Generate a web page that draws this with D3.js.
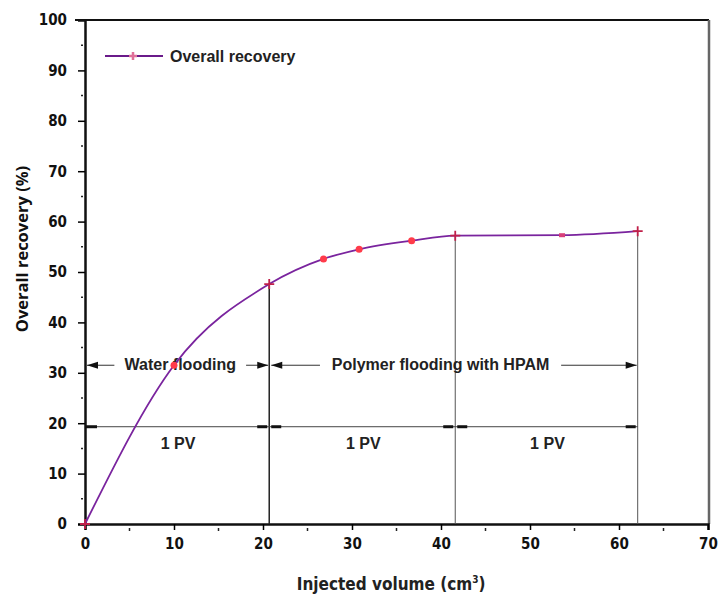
<!DOCTYPE html>
<html>
<head>
<meta charset="utf-8">
<script src="https://cdn.jsdelivr.net/npm/d3@7"></script>
<style>
  body { margin: 0; background: #fff; }
  svg { display: block; }
  text { font-family: "Liberation Sans", Arial, sans-serif; }
</style>
</head>
<body>
<div id="chart"></div>
<script>
// recovery curve
const injected = [0, 10, 20.7, 26.8, 30.8, 36.7, 41.6, 53.6, 62.1];
const recovery = [0, 31.5, 47.6, 52.6, 54.5, 56.2, 57.2, 57.3, 58.1];
const markerKind = ["plus", "dot", "plus", "dot", "dot", "dot", "plus", "square", "plus"];

// stage boundaries (cm3) and labels
const stageBounds = [0, 20.7, 41.6, 62.1];
const floodLabels = ["Water flooding", "Polymer flooding with HPAM"];
const pvLabels = ["1 PV", "1 PV", "1 PV"];

const xTicks = [0, 10, 20, 30, 40, 50, 60, 70];
const yTicks = [0, 10, 20, 30, 40, 50, 60, 70, 80, 90, 100];

const width = 721, height = 596;
const margin = { top: 20, right: 9, bottom: 72, left: 85 };
const narrow = "'DejaVu Sans Condensed', 'Liberation Sans', sans-serif";

const svg = d3.select("#chart").append("svg")
    .attr("width", width)
    .attr("height", height);

const x = d3.scaleLinear().domain([0, 70]).range([margin.left, margin.left + 623]);
const y = d3.scaleLinear().domain([0, 100]).range([height - margin.bottom, margin.top]);

const plotRight = width - margin.right - 3;

// frame
svg.append("line")
    .attr("x1", x(0) - 10).attr("x2", plotRight)
    .attr("y1", y(100)).attr("y2", y(100))
    .attr("stroke", "#111").attr("stroke-width", 2);
svg.append("line")
    .attr("x1", plotRight).attr("x2", plotRight)
    .attr("y1", y(100)).attr("y2", y(0))
    .attr("stroke", "#666").attr("stroke-width", 2.5);

// y axis
const yAxis = svg.append("g")
    .attr("transform", `translate(${x(0)},0)`)
    .call(d3.axisLeft(y).tickValues(yTicks).tickSize(7).tickPadding(11));
yAxis.select(".domain").attr("stroke-width", 2.5).attr("stroke", "#111");
yAxis.selectAll(".tick line").attr("stroke-width", 1.5);
yAxis.selectAll(".tick text")
    .attr("font-size", 15).attr("font-weight", "bold").attr("fill", "#111")
    .style("font-family", narrow);
yAxis.selectAll(".tick").filter(d => d === 100).select("line").remove();

svg.append("g").selectAll("line")
    .data(d3.range(5, 100, 10))
    .join("line")
    .attr("x1", x(0) - 4).attr("x2", x(0) - 2)
    .attr("y1", d => y(d)).attr("y2", d => y(d))
    .attr("stroke", "#222").attr("stroke-width", 1.5);

// x axis
const xAxis = svg.append("g")
    .attr("transform", `translate(0,${y(0)})`)
    .call(d3.axisBottom(x).tickValues(xTicks).tickSize(6).tickPadding(8));
xAxis.select(".domain").attr("stroke-width", 2.5).attr("stroke", "#111");
xAxis.selectAll(".tick line").attr("stroke-width", 1.5);
xAxis.selectAll(".tick text")
    .attr("font-size", 15).attr("font-weight", "bold").attr("fill", "#111")
    .style("font-family", narrow);

svg.append("g").selectAll("line")
    .data(d3.range(5, 70, 10))
    .join("line")
    .attr("x1", d => x(d)).attr("x2", d => x(d))
    .attr("y1", y(0) + 4).attr("y2", y(0) + 7)
    .attr("stroke", "#222").attr("stroke-width", 1.5);

// axis titles
svg.append("text")
    .attr("transform", `translate(28,249) rotate(-90)`)
    .attr("text-anchor", "middle")
    .attr("font-size", 16.5).attr("font-weight", "bold")
    .style("font-family", "'Open Sans', sans-serif")
    .attr("fill", "#111")
    .text("Overall recovery (%)");

const xTitle = svg.append("text")
    .attr("x", x(34.4)).attr("y", 590)
    .attr("text-anchor", "middle")
    .attr("font-size", 17).attr("font-weight", "bold")
    .style("font-family", narrow)
    .attr("fill", "#222");
xTitle.append("tspan").text("Injected volume (cm");
xTitle.append("tspan").attr("dy", -7).attr("font-size", 10).text("3");
xTitle.append("tspan").attr("dy", 7).text(")");

// stage dividers from the curve down to the axis
svg.append("g").selectAll("line")
    .data(stageBounds.slice(1))
    .join("line")
    .attr("x1", d => x(d)).attr("x2", d => x(d))
    .attr("y1", d => y(recovery[injected.indexOf(d)]))
    .attr("y2", y(0))
    .attr("stroke", (d, i) => i === 0 ? "#222" : "#555")
    .attr("stroke-width", (d, i) => i === 0 ? 1.5 : 1);

// flooding arrows
const arrowY = y(31.5);
function head(tipX, dir) {
    svg.append("path")
        .attr("d", `M${tipX},${arrowY} l${-dir * 11},-3.5 v7 Z`)
        .attr("fill", "#111");
}

const floodStages = [[stageBounds[0], stageBounds[1]], [stageBounds[1], stageBounds[3]]];
const floodText = [[x(4.2), x(17.2)], [x(27.3), x(52.6)]];

floodStages.forEach((s, i) => {
    const [t0, t1] = floodText[i];
    const a = x(s[0]) + 2, b = x(s[1]) - 1;
    svg.append("line")
        .attr("x1", a).attr("x2", t0 - 8)
        .attr("y1", arrowY).attr("y2", arrowY)
        .attr("stroke", "#333").attr("stroke-width", 1);
    svg.append("line")
        .attr("x1", t1 + 8).attr("x2", b)
        .attr("y1", arrowY).attr("y2", arrowY)
        .attr("stroke", "#333").attr("stroke-width", 1);
    head(a, -1);
    head(b, 1);
    svg.append("text")
        .attr("x", (t0 + t1) / 2).attr("y", arrowY + 5)
        .attr("text-anchor", "middle")
        .attr("font-size", 16).attr("font-weight", "bold")
        .attr("fill", "#222")
        .text(floodLabels[i]);
});

// 1 PV brackets
const pvY = y(19.3);
svg.append("line")
    .attr("x1", x(0) + 1).attr("x2", x(stageBounds[3]))
    .attr("y1", pvY).attr("y2", pvY)
    .attr("stroke", "#444").attr("stroke-width", 1);
stageBounds.slice(0, 3).forEach((b, i) => {
    const a = x(b), c = x(stageBounds[i + 1]);
    svg.append("line")
        .attr("x1", a + (i === 0 ? 1 : 2)).attr("x2", a + 12)
        .attr("y1", pvY).attr("y2", pvY)
        .attr("stroke", "#111").attr("stroke-width", 3);
    svg.append("line")
        .attr("x1", c - 12).attr("x2", c - 2)
        .attr("y1", pvY).attr("y2", pvY)
        .attr("stroke", "#111").attr("stroke-width", 3);
    svg.append("text")
        .attr("x", (a + c) / 2 + 1).attr("y", pvY + 22)
        .attr("text-anchor", "middle")
        .attr("font-size", 16).attr("font-weight", "bold")
        .attr("fill", "#222")
        .text(pvLabels[i]);
});

// curve
const pts = injected.map((v, i) => ({ x: v, y: recovery[i], k: markerKind[i] }));
const line = d3.line()
    .x(d => x(d.x))
    .y(d => y(d.y))
    .curve(d3.curveMonotoneX);

svg.append("path")
    .datum(pts)
    .attr("d", line)
    .attr("fill", "none")
    .attr("stroke", "#7a249e")
    .attr("stroke-width", 1.8);

function drawMarker(g, kind, px, py) {
    if (kind === "dot") {
        g.append("circle").attr("cx", px).attr("cy", py).attr("r", 3.5).attr("fill", "#ff3b4a");
    } else if (kind === "square") {
        g.append("rect").attr("x", px - 3).attr("y", py - 2).attr("width", 6).attr("height", 4)
            .attr("fill", "#d8407a");
    } else {
        g.append("path")
            .attr("d", `M${px - 5},${py} h10 M${px},${py - 5} v10`)
            .attr("stroke", "#c0204a").attr("stroke-width", 1.8);
    }
}

const markers = svg.append("g");
pts.forEach(d => drawMarker(markers, d.k, x(d.x), y(d.y)));

// legend
const legend = svg.append("g").attr("transform", "translate(105,56)");
legend.append("line")
    .attr("x1", 0).attr("x2", 58)
    .attr("stroke", "#6a1a8a").attr("stroke-width", 1.8);
legend.append("path")
    .attr("d", "M24,0 h8 M28,-4 v8")
    .attr("stroke", "#e0709a").attr("stroke-width", 2.5);
legend.append("text")
    .attr("x", 65).attr("y", 6)
    .attr("font-size", 16).attr("font-weight", "bold")
    .attr("fill", "#222")
    .text("Overall recovery");
</script>
</body>
</html>
